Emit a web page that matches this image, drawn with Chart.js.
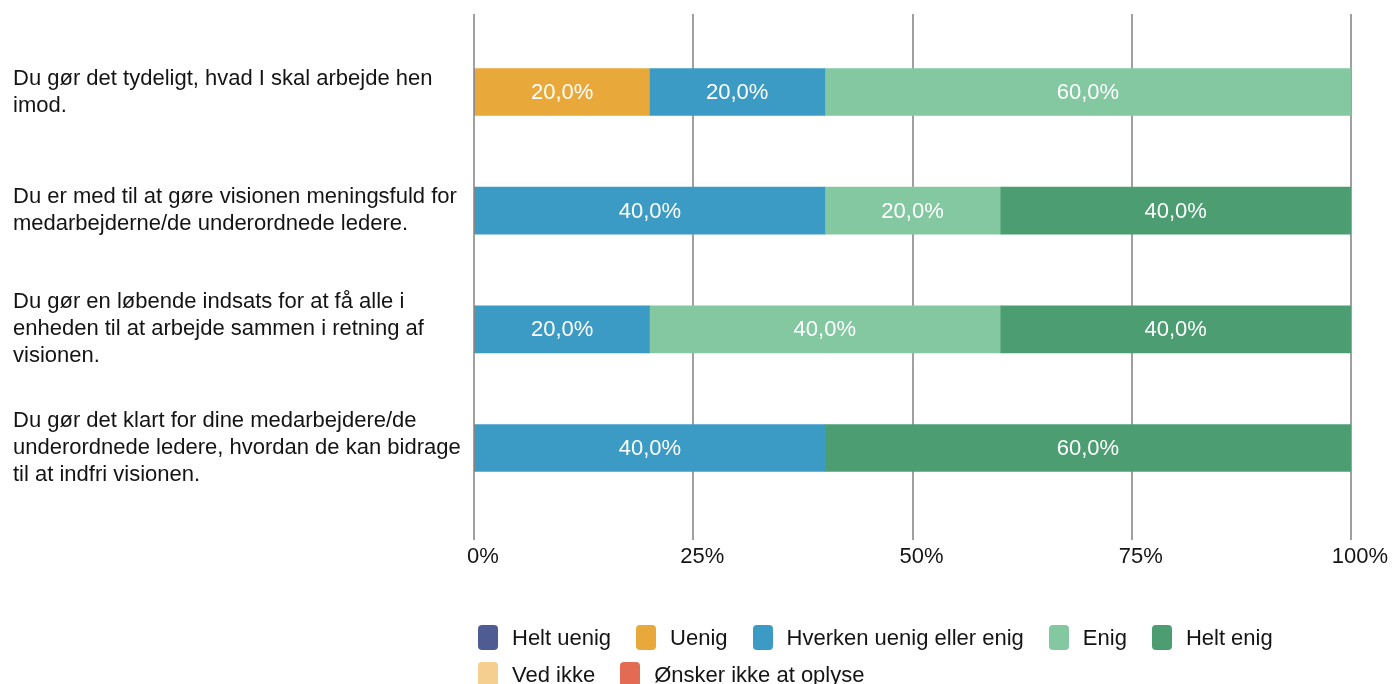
<!DOCTYPE html>
<html>
<head>
<meta charset="utf-8">
<script src="https://cdn.jsdelivr.net/npm/chart.js@4/dist/chart.umd.min.js"></script>
<style>
  html, body { margin: 0; padding: 0; background: #fff; }
  #wrap { position: relative; width: 1394px; height: 684px; overflow: hidden; }
  #legend {
    position: absolute; left: 478px; top: 625px; width: 870px;
    display: flex; flex-wrap: wrap; row-gap: 12px;
    font-family: "Liberation Sans", Arial, Helvetica, sans-serif; font-size: 22px; color: #141414;
  }
  .item { display: flex; align-items: center; margin-right: 25px; line-height: 25px; }
  .box { width: 20px; height: 25px; border-radius: 4px; margin-right: 14px; }
</style>
</head>
<body>
<div id="wrap">
  <canvas id="chart" width="1394" height="684"></canvas>
  <div id="legend"></div>
</div>
<script>
// questions, wrapped like in the survey report
const questions = [
  ['Du gør det tydeligt, hvad I skal arbejde hen', 'imod.'],
  ['Du er med til at gøre visionen meningsfuld for', 'medarbejderne/de underordnede ledere.'],
  ['Du gør en løbende indsats for at få alle i', 'enheden til at arbejde sammen i retning af', 'visionen.'],
  ['Du gør det klart for dine medarbejdere/de', 'underordnede ledere, hvordan de kan bidrage', 'til at indfri visionen.']
];
const answers = ['Helt uenig', 'Uenig', 'Hverken uenig eller enig', 'Enig', 'Helt enig', 'Ved ikke', 'Ønsker ikke at oplyse'];
const colors = ['#4f5b93', '#e9a83a', '#3b9bc4', '#84c8a2', '#4c9e72', '#f5cf8f', '#e36b53'];

// percent per answer, one value per question
const heltUenig = [0, 0, 0, 0];
const uenig = [20, 0, 0, 0];
const hverken = [20, 40, 20, 40];
const enig = [60, 20, 40, 0];
const heltEnig = [0, 40, 40, 60];
const vedIkke = [0, 0, 0, 0];
const oenskerIkke = [0, 0, 0, 0];

const xTicks = [0, 25, 50, 75, 100];

const series = [heltUenig, uenig, hverken, enig, heltEnig, vedIkke, oenskerIkke];
const FONT = '"Liberation Sans", Arial, Helvetica, sans-serif';

const datasets = series.map((vals, i) => ({
  label: answers[i],
  data: vals.map((v, q) => ({ x: v, y: q })),
  backgroundColor: colors[i],
  borderWidth: 0,
  barThickness: 47
}));

// white percentage labels inside the segments
const segLabels = {
  id: 'segLabels',
  afterDatasetsDraw(chart) {
    const ctx = chart.ctx;
    ctx.save();
    ctx.fillStyle = '#ffffff';
    ctx.font = '22px ' + FONT;
    ctx.textAlign = 'center';
    ctx.textBaseline = 'middle';
    chart.data.datasets.forEach((ds, di) => {
      const meta = chart.getDatasetMeta(di);
      meta.data.forEach((bar, j) => {
        const v = ds.data[j].x;
        if (!v) return;
        const p = bar.getCenterPoint();
        ctx.fillText(v.toFixed(1).replace('.', ',') + '%', p.x, p.y + 1);
      });
    });
    ctx.restore();
  }
};

new Chart(document.getElementById('chart'), {
  type: 'bar',
  data: { datasets },
  options: {
    indexAxis: 'y',
    responsive: false,
    animation: false,
    layout: { padding: { left: 13, top: 14, right: 43, bottom: 114 } },
    plugins: { legend: { display: false }, tooltip: { enabled: false } },
    scales: {
      x: {
        type: 'linear',
        stacked: true,
        min: 0, max: 100,
        afterBuildTicks: s => { s.ticks = xTicks.map(v => ({ value: v })); },
        afterFit: s => { s.height = 30; s.paddingLeft = 0; s.paddingRight = 0; },
        border: { display: false },
        grid: { color: '#a0a0a0', lineWidth: 2, drawTicks: false },
        ticks: {
          color: '#141414',
          font: { family: FONT, size: 22 },
          padding: 4,
          labelOffset: 9,
          maxRotation: 0,
          callback: v => v + '%'
        }
      },
      y: {
        type: 'linear',
        stacked: true,
        reverse: true,
        offset: false,
        min: -0.657, max: 3.775,
        afterBuildTicks: s => { s.ticks = questions.map((q, i) => ({ value: i })); },
        afterFit: s => { s.width = 461; s.paddingTop = 0; s.paddingBottom = 0; },
        border: { display: false },
        grid: { display: false, offset: false },
        ticks: {
          color: '#141414',
          font: { family: FONT, size: 22, lineHeight: 1.23 },
          crossAlign: 'far',
          autoSkip: false,
          callback: v => questions[v] || ''
        }
      }
    }
  },
  plugins: [segLabels]
});

// legend below the plot, left aligned with the axis
const legend = document.getElementById('legend');
answers.forEach((a, i) => {
  const item = document.createElement('div');
  item.className = 'item';
  const box = document.createElement('span');
  box.className = 'box';
  box.style.background = colors[i];
  const txt = document.createElement('span');
  txt.textContent = a;
  item.appendChild(box);
  item.appendChild(txt);
  legend.appendChild(item);
});
</script>
</body>
</html>
